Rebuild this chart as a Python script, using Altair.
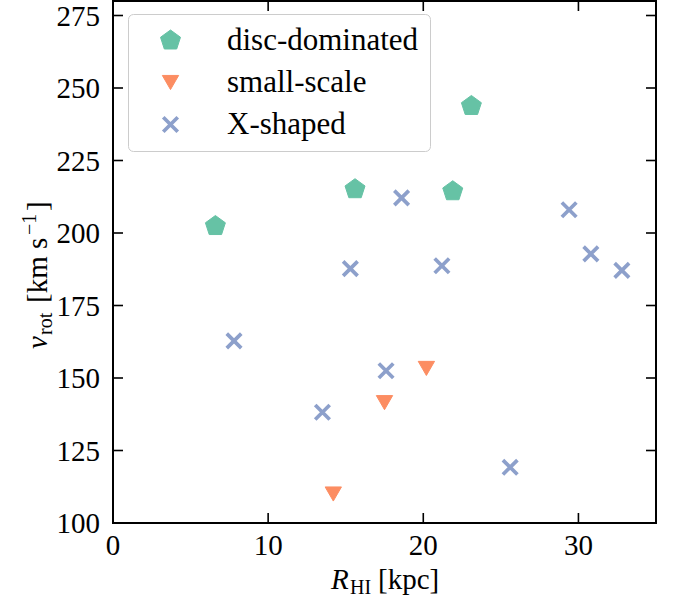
import altair as alt
import pandas as pd

# ---- data ----
categories = ["disc-dominated", "small-scale", "X-shaped"]
colors = ["#66c2a5", "#fc8d62", "#8da0cb"]

disc_r = [6.6, 15.6, 21.9, 23.1]
disc_v = [202.4, 215.1, 214.4, 243.8]
small_r = [14.2, 17.5, 20.2]
small_v = [110.0, 141.5, 153.3]
xs_r = [7.8, 13.5, 15.3, 17.6, 18.6, 21.2, 25.6, 29.4, 30.8, 32.8]
xs_v = [162.8, 138.2, 187.7, 152.5, 212.1, 188.7, 119.2, 208.0, 192.8, 187.1]

x_ticks = [0, 10, 20, 30]
y_ticks = [100, 125, 150, 175, 200, 225, 250, 275]

W, H = 543, 522
FONT = "Liberation Serif"

rows = []
for cat, rs, vs in zip(categories, [disc_r, small_r, xs_r], [disc_v, small_v, xs_v]):
    for r, v in zip(rs, vs):
        rows.append({"r": r, "v": v, "type": cat})
df = pd.DataFrame(rows)

pentagon = "M0,-1L0.951,-0.309L0.588,0.809L-0.588,0.809L-0.951,-0.309Z"
cross = "M-1,-1L1,1M-1,1L1,-1"

leg = alt.Legend(
    title=None, orient="none", legendX=15, legendY=13,
    labelFont=FONT, labelFontSize=31, labelColor="black", labelLimit=600,
    padding=11, rowPadding=10, symbolOffset=16, labelOffset=41,
    strokeColor="#cccccc", fillColor="rgba(255,255,255,0.8)", cornerRadius=5,
    labelExpr="datum.label + '     '",
)

xscale = alt.Scale(domain=[0, 35], nice=False, zero=False)
yscale = alt.Scale(domain=[100, 280], nice=False, zero=False)

points = alt.Chart(df).mark_point(opacity=1, filled=False).encode(
    x=alt.X("r:Q", scale=xscale, axis=None),
    y=alt.Y("v:Q", scale=yscale, axis=None),
    shape=alt.Shape("type:N", scale=alt.Scale(domain=categories, range=[pentagon, "triangle-down", cross]), legend=leg),
    fill=alt.Fill("type:N", scale=alt.Scale(domain=categories, range=[colors[0], colors[1], "transparent"]), legend=leg),
    stroke=alt.Stroke("type:N", scale=alt.Scale(domain=categories, range=colors), legend=leg),
    size=alt.Size("type:N", scale=alt.Scale(type="ordinal", domain=categories, range=[441, 266, 210]), legend=leg),
    strokeWidth=alt.StrokeWidth("type:N", scale=alt.Scale(type="ordinal", domain=categories, range=[1, 1, 3.7]), legend=leg),
)

xt = pd.DataFrame({"t": x_ticks})
yt = pd.DataFrame({"t": y_ticks})
TL = 10
tick_style = dict(color="black", strokeWidth=1.6)
xb = alt.Chart(xt).mark_rule(**tick_style).encode(
    x=alt.X("t:Q", scale=xscale, axis=None), y=alt.value(H), y2=alt.value(H - TL))
xtop = alt.Chart(xt).mark_rule(**tick_style).encode(
    x=alt.X("t:Q", scale=xscale, axis=None), y=alt.value(0), y2=alt.value(TL))
yl = alt.Chart(yt).mark_rule(**tick_style).encode(
    y=alt.Y("t:Q", scale=yscale, axis=None), x=alt.value(0), x2=alt.value(TL))
yr = alt.Chart(yt).mark_rule(**tick_style).encode(
    y=alt.Y("t:Q", scale=yscale, axis=None), x=alt.value(W), x2=alt.value(W - TL))

# tick labels drawn from the tick arrays through the scales
xlab = alt.Chart(xt).mark_text(font=FONT, fontSize=29, color="black", align="center",
                               baseline="alphabetic").encode(
    x=alt.X("t:Q", scale=xscale, axis=None), y=alt.value(H + 32), text=alt.Text("t:Q", format="d"))
ylab = alt.Chart(yt).mark_text(font=FONT, fontSize=29, color="black", align="right",
                               baseline="alphabetic", dy=10).encode(
    y=alt.Y("t:Q", scale=yscale, axis=None), x=alt.value(-13), text=alt.Text("t:Q", format="d"))

def txt(s, x, y, size=29, italic=False, angle=0):
    kw = dict(font=FONT, fontSize=size, color="black", align="left", baseline="alphabetic")
    if italic:
        kw["fontStyle"] = "italic"
    if angle:
        kw["angle"] = angle
    return alt.Chart(alt.Data(values=[{}])).mark_text(**kw).encode(
        x=alt.value(x), y=alt.value(y), text=alt.value(s))

# x-axis title: R_HI [kpc]
xtitle = [
    txt("R", 218, 588, italic=True),
    txt("HI", 237, 593, size=20),
    txt("[kpc]", 265, 588),
]
# y-axis title: v_rot [km s^-1]
ytitle = [
    txt("v", -66, 348, italic=True, angle=270),
    txt("rot", -61, 334, size=20, angle=270),
    txt("[km s", -66, 302, angle=270),
    txt("\u22121", -77, 234, size=20, angle=270),
    txt("]", -66, 210, angle=270),
]

chart = alt.layer(points, xb, xtop, yl, yr, xlab, ylab, *xtitle, *ytitle).properties(
    width=W, height=H,
    background="white",
    autosize=alt.AutoSizeParams(type="none"),
    padding={"left": 113, "top": 1, "right": 25, "bottom": 87},
).configure_view(stroke="black", strokeWidth=2)

chart.save("out.html", embed_options={"renderer": "svg", "actions": False})
